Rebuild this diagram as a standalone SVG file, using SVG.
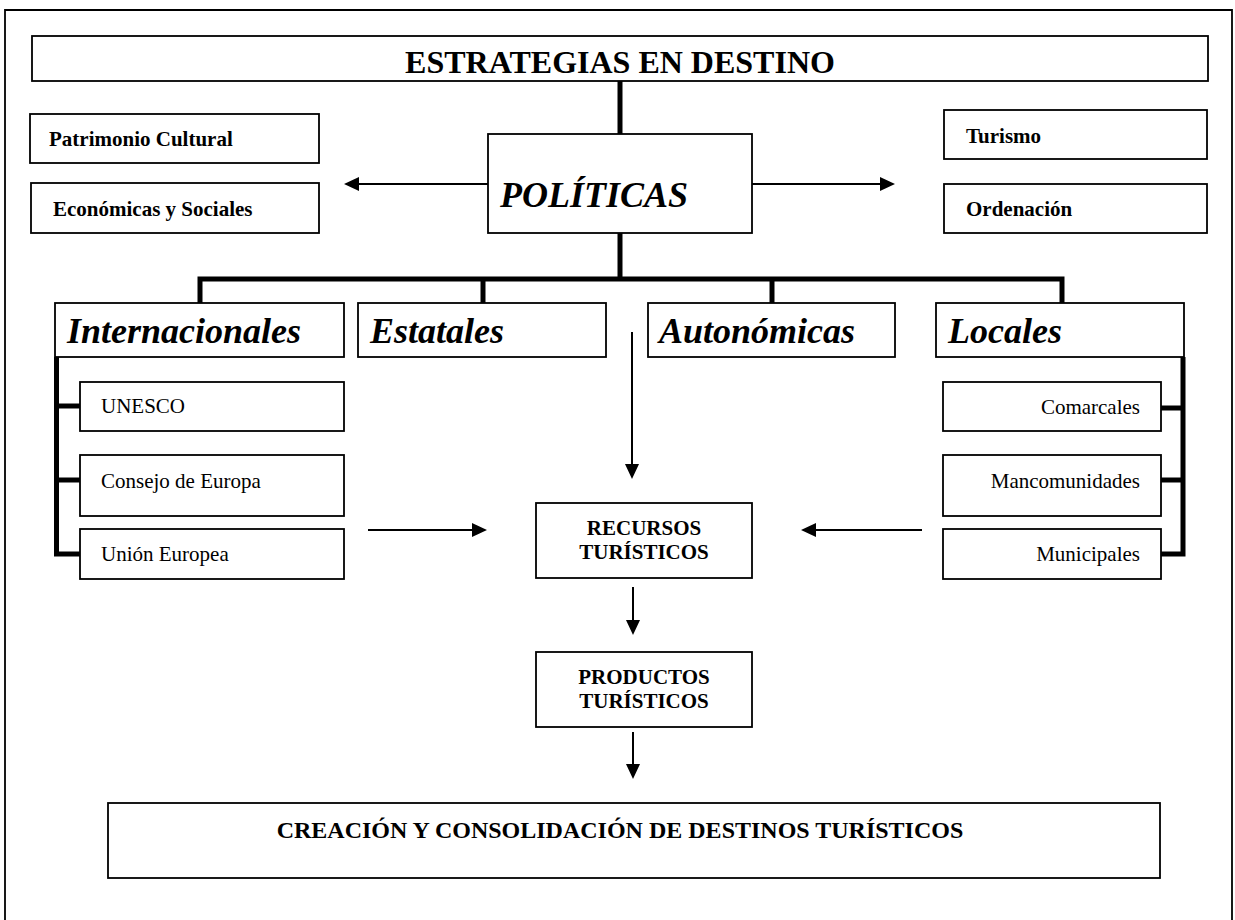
<svg xmlns="http://www.w3.org/2000/svg" width="1235" height="920" viewBox="0 0 1235 920">
<style>
  .box { fill: #fff; stroke: #000; stroke-width: 1.8; }
  .t { font-family: "Liberation Serif", "Times New Roman", serif; fill: #000; }
  .b { font-weight: bold; }
  .bi { font-weight: bold; font-style: italic; font-size: 36px; }
  .s { font-size: 21px; }
  .thick { stroke: #000; stroke-width: 5; fill: none; }
  .thin { stroke: #000; stroke-width: 2; fill: none; }
  .arr { stroke: #000; stroke-width: 2; fill: none; marker-end: url(#ah); }
</style>
<defs>
  <marker id="ah" markerUnits="userSpaceOnUse" markerWidth="16" markerHeight="16" refX="12" refY="7" orient="auto">
    <path d="M0,0 L15,7 L0,14 z" fill="#000"/>
  </marker>
</defs>
<rect width="1235" height="920" fill="#fff"/>
<path d="M5,920 V10 H1232 V920" fill="none" stroke="#000" stroke-width="1.8"/>

<g id="connectors">
  <path class="thick" d="M620,81 V134"/>
  <path class="thick" d="M620,233 V279"/>
  <path class="thick" d="M200,303 V279 H1062 V303"/>
  <path class="thick" d="M483,279 V303"/>
  <path class="thick" d="M772,279 V303"/>
  <path class="thick" d="M56.5,357 V554 H80"/>
  <path class="thick" d="M56.5,406 H80"/>
  <path class="thick" d="M56.5,480 H80"/>
  <path class="thick" d="M1183,357 V554 H1161"/>
  <path class="thick" d="M1183,408 H1161"/>
  <path class="thick" d="M1183,480 H1161"/>
  <path class="arr" d="M488,184 H347"/>
  <path class="arr" d="M752,184 H892"/>
  <path class="arr" d="M632,332 V476"/>
  <path class="arr" d="M368,530 H484"/>
  <path class="arr" d="M922,530 H804"/>
  <path class="arr" d="M633,587 V632"/>
  <path class="arr" d="M633,732 V776"/>
</g>

<g id="title">
  <rect class="box" x="32" y="36" width="1176" height="45"/>
  <text class="t b" x="620" y="73" font-size="32" text-anchor="middle">ESTRATEGIAS EN DESTINO</text>
</g>
<g id="politicas">
  <rect class="box" x="488" y="134" width="264" height="99"/>
  <text class="t bi" x="500" y="207">POLÍTICAS</text>
</g>
<g id="patrimonio">
  <rect class="box" x="30" y="114" width="289" height="49"/>
  <text class="t b s" x="49" y="146">Patrimonio Cultural</text>
</g>
<g id="economicas">
  <rect class="box" x="31" y="183" width="288" height="50"/>
  <text class="t b s" x="53" y="216">Económicas y Sociales</text>
</g>
<g id="turismo">
  <rect class="box" x="944" y="110" width="263" height="49"/>
  <text class="t b s" x="966" y="143">Turismo</text>
</g>
<g id="ordenacion">
  <rect class="box" x="944" y="184" width="263" height="49"/>
  <text class="t b s" x="966" y="216">Ordenación</text>
</g>
<g id="internacionales">
  <rect class="box" x="55" y="303" width="289" height="54"/>
  <text class="t bi" x="67" y="343">Internacionales</text>
</g>
<g id="estatales">
  <rect class="box" x="358" y="303" width="248" height="54"/>
  <text class="t bi" x="370" y="343">Estatales</text>
</g>
<g id="autonomicas">
  <rect class="box" x="648" y="303" width="247" height="54"/>
  <text class="t bi" x="659" y="343">Autonómicas</text>
</g>
<g id="locales">
  <rect class="box" x="936" y="303" width="248" height="54"/>
  <text class="t bi" x="948" y="343">Locales</text>
</g>
<g id="unesco">
  <rect class="box" x="80" y="382" width="264" height="49"/>
  <text class="t s" x="101" y="413">UNESCO</text>
</g>
<g id="consejo">
  <rect class="box" x="80" y="455" width="264" height="61"/>
  <text class="t s" x="101" y="488">Consejo de Europa</text>
</g>
<g id="union">
  <rect class="box" x="80" y="529" width="264" height="50"/>
  <text class="t s" x="101" y="561">Unión Europea</text>
</g>
<g id="comarcales">
  <rect class="box" x="943" y="382" width="218" height="49"/>
  <text class="t s" x="1140" y="414" text-anchor="end">Comarcales</text>
</g>
<g id="mancomunidades">
  <rect class="box" x="943" y="455" width="218" height="61"/>
  <text class="t s" x="1140" y="488" text-anchor="end">Mancomunidades</text>
</g>
<g id="municipales">
  <rect class="box" x="943" y="529" width="218" height="50"/>
  <text class="t s" x="1140" y="561" text-anchor="end">Municipales</text>
</g>
<g id="recursos">
  <rect class="box" x="536" y="503" width="216" height="75"/>
  <text class="t b s" x="644" y="535" text-anchor="middle">RECURSOS</text>
  <text class="t b s" x="644" y="559" text-anchor="middle">TURÍSTICOS</text>
</g>
<g id="productos">
  <rect class="box" x="536" y="652" width="216" height="75"/>
  <text class="t b s" x="644" y="684" text-anchor="middle">PRODUCTOS</text>
  <text class="t b s" x="644" y="708" text-anchor="middle">TURÍSTICOS</text>
</g>
<g id="creacion">
  <rect class="box" x="108" y="803" width="1052" height="75"/>
  <text class="t b" x="620" y="838" font-size="24" text-anchor="middle">CREACIÓN Y CONSOLIDACIÓN DE DESTINOS TURÍSTICOS</text>
</g>
</svg>
